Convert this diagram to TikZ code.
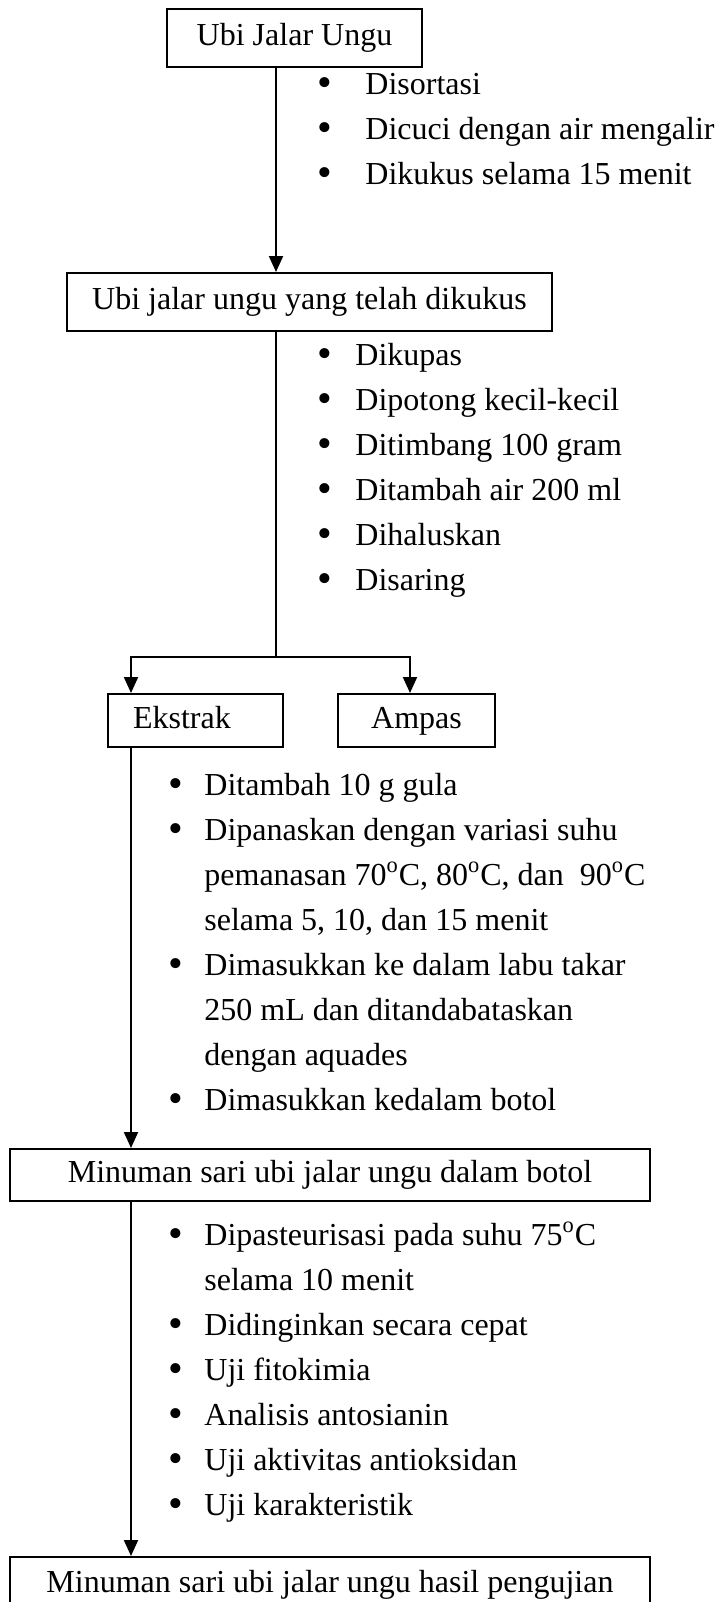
\documentclass[tikz,border=0pt]{standalone}
\usepackage{fontspec}
\setmainfont{Liberation Serif}
\usetikzlibrary{arrows.meta}

\tikzset{
  box/.style={draw, line width=1pt, inner sep=0pt, align=center,
    text height=11pt, text depth=3.5pt},
  link/.style={line width=1pt},
  flow/.style={line width=1pt, -{Triangle[length=8pt,width=7pt]}},
  steps/.style={anchor=base west, inner sep=0pt},
}
\newcommand{\dg}{\textsuperscript{o}}
\newcommand{\bul}{\raisebox{-1pt}{\fontsize{21}{21}\selectfont\textbullet}}

\begin{document}
\begin{tikzpicture}[x=0.5pt,y=-0.5pt,font=\fontsize{16}{22.5}\selectfont]
\useasboundingbox (0,0) rectangle (722,1602);
\clip (0,0) rectangle (722,1602);

% Vertical lines of the flow
\coordinate (T1) at (276,0);
\coordinate (T2) at (131,0);
\coordinate (T3) at (410,0);
\coordinate (split) at (276,657);

% The boxes
\node[box, minimum width=127.5pt, minimum height=29pt] (ubi) at (294.5,38) {Ubi Jalar Ungu};
\node[box, minimum width=242.5pt, minimum height=29pt] (kukus) at (309.5,302) {Ubi jalar ungu yang telah dikukus};
\node[box, minimum width=87.5pt, minimum height=26.5pt, text width=62.5pt, align=left] (ekstrak) at (195.5,720.5) {Ekstrak};
\node[box, minimum width=78.5pt, minimum height=26.5pt] (ampas) at (416.5,720.5) {Ampas};
\node[box, minimum width=320pt, minimum height=26pt] (botol) at (330,1175) {Minuman sari ubi jalar ungu dalam botol};
\node[box, minimum width=320pt, minimum height=28pt] (hasil) at (330,1585) {Minuman sari ubi jalar ungu hasil pengujian};

% Steps between the boxes
\node[steps] (s1) at (317,94) {\begin{tabular}[t]{@{}p{24pt}@{}l@{}}
  \bul & Disortasi\\
  \bul & Dicuci dengan air mengalir\\
  \bul & Dikukus selama 15 menit
\end{tabular}};
\node[steps] (s2) at (317,365) {\begin{tabular}[t]{@{}p{19pt}@{}l@{}}
  \bul & Dikupas\\
  \bul & Dipotong kecil-kecil\\
  \bul & Ditimbang 100 gram\\
  \bul & Ditambah air 200 ml\\
  \bul & Dihaluskan\\
  \bul & Disaring
\end{tabular}};
\node[steps] (s3) at (168,795) {\begin{tabular}[t]{@{}p{18pt}@{}l@{}}
  \bul & Ditambah 10 g gula\\
  \bul & Dipanaskan dengan variasi suhu\\
  & pemanasan 70\dg C, 80\dg C, dan~\ 90\dg C\\
  & selama 5, 10, dan 15 menit\\
  \bul & Dimasukkan ke dalam labu takar\\
  & 250 mL dan ditandabataskan\\
  & dengan aquades\\
  \bul & Dimasukkan kedalam botol
\end{tabular}};
\node[steps] (s4) at (168,1245) {\begin{tabular}[t]{@{}p{18pt}@{}l@{}}
  \bul & Dipasteurisasi pada suhu 75\dg C\\
  & selama 10 menit\\
  \bul & Didinginkan secara cepat\\
  \bul & Uji fitokimia\\
  \bul & Analisis antosianin\\
  \bul & Uji aktivitas antioksidan\\
  \bul & Uji karakteristik
\end{tabular}};

% Connectors
\draw[flow] (ubi.south -| T1) -- (kukus.north -| T1);
\draw[link] (kukus.south -| T1) -- (split);
\draw[flow] (split) -| (ekstrak.north -| T2);
\draw[flow] (split) -| (ampas.north -| T3);
\draw[flow] (ekstrak.south -| T2) -- (botol.north -| T2);
\draw[flow] (botol.south -| T2) -- (hasil.north -| T2);
\end{tikzpicture}
\end{document}
